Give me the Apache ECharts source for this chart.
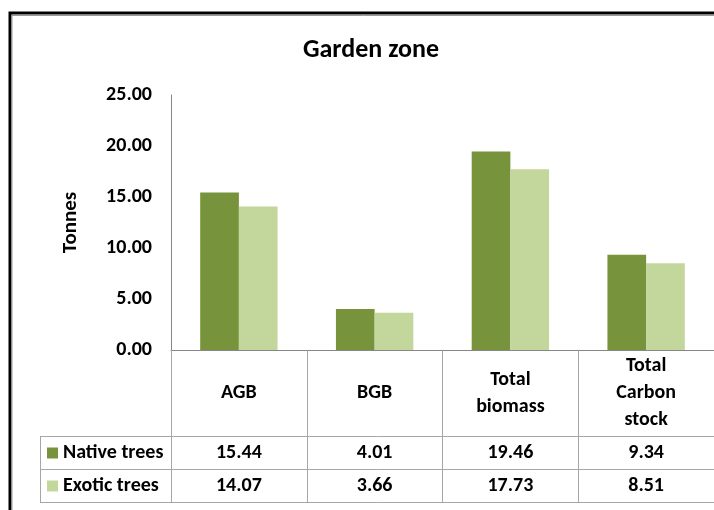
<!DOCTYPE html>
<html>
<head>
<meta charset="utf-8">
<script src="https://cdn.jsdelivr.net/npm/echarts@6/dist/echarts.min.js"></script>
<style>
  html, body { margin: 0; padding: 0; background: #fff; }
  #chart { width: 714px; height: 510px; }
</style>
</head>
<body>
<div id="chart"></div>
<script>
// Biomass and carbon figures for the garden zone (tonnes)
const categories = ['AGB', 'BGB', 'Total\nbiomass', 'Total\nCarbon\nstock'];
const seriesNames = ['Native trees', 'Exotic trees'];
const nativeTrees = [15.44, 4.01, 19.46, 9.34];
const exoticTrees = [14.07, 3.66, 17.73, 8.51];
const yTicks = { min: 0, max: 25, interval: 5 };

const FONT = 'Carlito, Lato, sans-serif';
const TABLE_FONT_SIZE = 20;
const colors = ['#77933C', '#C3D69B'];
const gridLine = '#A6A6A6';
const seriesData = [nativeTrees, exoticTrees];

// table geometry under the plot
const rowLines = [436, 469, 502];
const tableLeft = 40;
const tableRight = 723;

const chart = echarts.init(document.getElementById('chart'), null, { renderer: 'canvas' });

const option = {
  animation: false,
  backgroundColor: '#fff',
  textStyle: { fontFamily: FONT },
  title: {
    text: 'Garden zone',
    left: 366, top: 32, textAlign: 'center',
    textStyle: { fontFamily: FONT, fontWeight: 'bold', fontSize: 26, color: '#000' }
  },
  grid: { left: 171, top: 95, width: 552, height: 255, containLabel: false },
  xAxis: {
    type: 'category',
    data: categories,
    boundaryGap: true,
    axisLine: { show: true, lineStyle: { color: '#868686', width: 1 } },
    axisTick: { show: true, interval: 0, length: 152, lineStyle: { color: gridLine, width: 1 } },
    axisLabel: {
      interval: 0, margin: 43, verticalAlign: 'middle', lineHeight: 27,
      fontFamily: FONT, fontWeight: 'bold', fontSize: TABLE_FONT_SIZE, color: '#000'
    },
    splitLine: { show: false }
  },
  yAxis: {
    type: 'value',
    min: yTicks.min, max: yTicks.max, interval: yTicks.interval,
    name: 'Tonnes', nameLocation: 'middle', nameGap: 90, nameRotate: 90,
    nameTextStyle: { fontFamily: FONT, fontWeight: 'bold', fontSize: 21, color: '#000' },
    axisLine: { show: true, lineStyle: { color: '#868686', width: 1 } },
    axisTick: { show: false },
    splitLine: { show: false },
    axisLabel: {
      margin: 19, formatter: v => v.toFixed(2),
      fontFamily: FONT, fontWeight: 'bold', fontSize: 20, color: '#000'
    }
  },
  series: seriesNames.map((name, i) => ({
    name, type: 'bar', data: seriesData[i],
    barGap: '0%', barCategoryGap: '43%',
    itemStyle: { color: colors[i] }
  }))
};
chart.setOption(option);

// Data table beneath the category axis, laid out on the axis positions
function drawTable() {
  const elements = [];
  // outer frame of the chart area
  elements.push({
    type: 'rect', shape: { x: 10, y: 13, width: 900, height: 700 },
    style: { fill: null, stroke: '#000', lineWidth: 3 }, z: 100
  });
  elements.push({
    type: 'rect', shape: { x: 12, y: 15.5, width: 900, height: 700 },
    style: { fill: null, stroke: '#9a9a9a', lineWidth: 1 }, z: 100
  });
  rowLines.forEach(y => {
    elements.push({
      type: 'line', shape: { x1: tableLeft, y1: y + 0.5, x2: tableRight, y2: y + 0.5 },
      style: { stroke: gridLine, lineWidth: 1 }
    });
  });
  elements.push({
    type: 'line', shape: { x1: tableLeft + 0.5, y1: rowLines[0], x2: tableLeft + 0.5, y2: rowLines[2] },
    style: { stroke: gridLine, lineWidth: 1 }
  });
  seriesNames.forEach((name, r) => {
    const cy = (rowLines[r] + rowLines[r + 1]) / 2 + 0.5;
    elements.push({
      type: 'rect', shape: { x: 47, y: cy - 5.5, width: 11, height: 11 },
      style: { fill: colors[r] }
    });
    elements.push({
      type: 'text', x: 63, y: cy,
      style: {
        text: name, fill: '#000', font: 'bold ' + TABLE_FONT_SIZE + 'px ' + FONT,
        textAlign: 'left', textVerticalAlign: 'middle'
      }
    });
    seriesData[r].forEach((v, c) => {
      const cx = chart.convertToPixel({ xAxisIndex: 0 }, c);
      elements.push({
        type: 'text', x: cx, y: cy,
        style: {
          text: v.toFixed(2), fill: '#000', font: 'bold ' + TABLE_FONT_SIZE + 'px ' + FONT,
          textAlign: 'center', textVerticalAlign: 'middle'
        }
      });
    });
  });
  chart.setOption({ graphic: { elements } });
}
drawTable();
</script>
</body>
</html>
